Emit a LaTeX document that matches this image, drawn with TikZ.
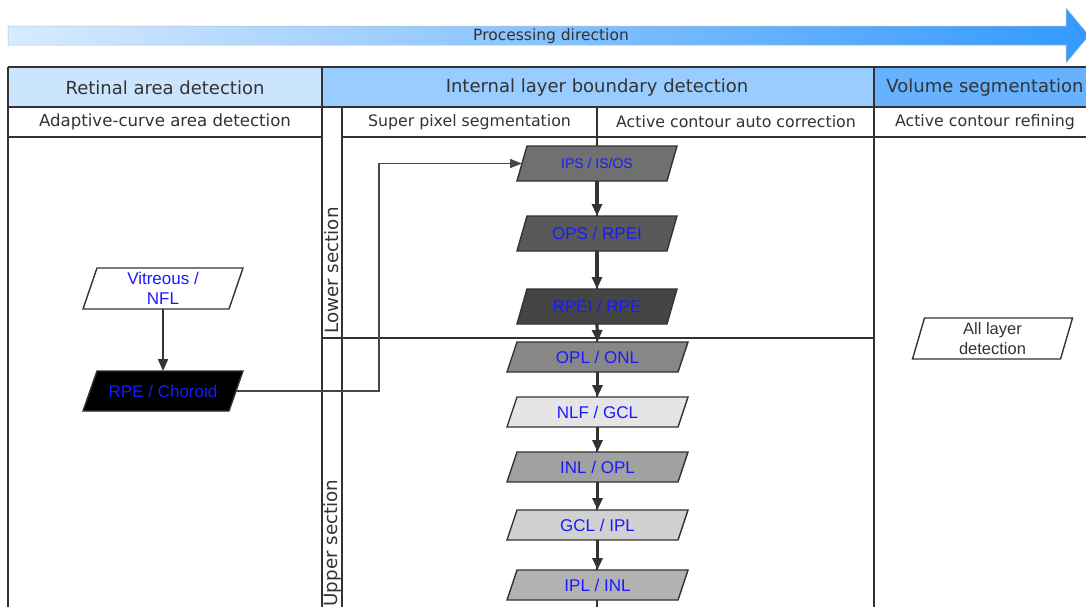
\documentclass[tikz,border=0pt]{standalone}
\usepackage{fontspec}
\setmainfont{DejaVu Sans}
\newfontfamily\boxfont{Liberation Sans}
\usetikzlibrary{arrows.meta}

\definecolor{ink}{HTML}{333333}
\definecolor{hdrA}{HTML}{CCE5FF}
\definecolor{hdrB}{HTML}{99CCFF}
\definecolor{hdrC}{HTML}{66B2FF}
\definecolor{arrowL}{HTML}{D8EBFF}
\definecolor{arrowR}{HTML}{3399FF}
\definecolor{labelblue}{HTML}{1A1AFF}

% slanted process box: name, cx, cy, edge length, height, slant, fill, font size, text
\newcommand\slantbox[9]{%
  \filldraw[boxline, fill=#7]
    ({#2-#4/2+#6/2},{#3-#5/2}) -- ({#2+#4/2+#6/2},{#3-#5/2}) --
    ({#2+#4/2-#6/2},{#3+#5/2}) -- ({#2-#4/2-#6/2},{#3+#5/2}) -- cycle;
  \node[boxtext, minimum width=#4, minimum height=#5,
        font=\boxfont\fontsize{#8}{20}\selectfont] (#1) at (#2,#3) {#9};}

\begin{document}
\begin{tikzpicture}[x=1pt,y=-1pt,
  grid/.style={draw=ink, line width=1.5pt},
  heavygrid/.style={draw=ink, line width=2.6pt},
  boxline/.style={draw=ink, line width=1.4pt},
  boxtext/.style={rectangle, inner sep=0pt, outer sep=0pt, align=center, text=labelblue},
  flow/.style={draw=ink, line width=3.2pt, -{Triangle[length=12pt,width=10pt]}},
  thinflow/.style={draw=ink, line width=2pt, -{Triangle[length=12pt,width=10pt]}},
  elbow/.style={draw=ink!90, line width=1.7pt, -{Triangle[length=12pt,width=9pt]}},
  hdr/.style={text=ink, font=\fontsize{18}{21}\selectfont},
  sub/.style={text=ink, font=\fontsize{15.8}{18}\selectfont},
  lane/.style={text=ink, rotate=90, font=\fontsize{18.3}{21}\selectfont}]

\clip (0,0) rectangle (1086,606);
\fill[white] (0,0) rectangle (1086,606);

% processing direction arrow
\shade[left color=arrowL, right color=arrowR, draw=black!25, line width=0.5pt]
  (8,26) -- (1066,26) -- (1066,8) -- (1089,35.5) -- (1066,63) -- (1066,45) -- (8,45) -- cycle;
\node[text=ink, font=\fontsize{15.5}{18}\selectfont] (dir) at (551,36) {Processing direction};

% header fills
\fill[hdrA] (8,67) rectangle (322,107);
\fill[hdrB] (322,67) rectangle (874,107);
\fill[hdrC] (874,67) rectangle (1090,107);

% table rules
\draw[grid] (8,67) -- (1090,67);
\draw[grid] (8,107) -- (1090,107);
\draw[grid] (8,137) -- (322,137);
\draw[grid] (342,137) -- (1090,137);
\draw[grid] (8,67) -- (8,610);
\draw[grid] (322,67) -- (322,610);
\draw[grid] (342,107) -- (342,610);
\draw[grid] (597,107) -- (597,610);
\draw[grid] (322,338) -- (874,338);
\draw[heavygrid] (874,67) -- (874,610);

% headers
\node[hdr] (h1) at (165,87.5) {Retinal area detection};
\node[hdr] (h2) at (597,87.5) {Internal layer boundary detection};
\node[hdr] (h3) at (985,87.5) {Volume segmentation};
\node[sub, font=\fontsize{16.6}{19}\selectfont] (s1) at (165,122) {Adaptive-curve area detection};
\node[sub] (s2) at (469.5,122) {Super pixel segmentation};
\node[sub] (s3) at (736,122) {Active contour auto correction};
\node[sub] (s4) at (985,122) {Active contour refining};
\node[lane] (lower) at (332,270.5) {Lower section};
\node[lane] (upper) at (332,543) {Upper section};

% retinal area boxes
\slantbox{vit}{163}{288.5}{146}{41}{14}{white}{17}{Vitreous /\\NFL}
\slantbox{rpe}{163}{391}{146}{40}{14}{black}{17}{RPE / Choroid}

% lower section boxes
\slantbox{ips}{597}{163.5}{150}{35}{10}{black!56}{14}{IPS / IS/OS}
\slantbox{ops}{597}{233.5}{150}{35}{10}{black!65}{17}{OPS / RPEI}
\slantbox{rpei}{597}{306.5}{150}{35}{10}{black!73}{17}{RPEI / RPE}

% upper section boxes
\slantbox{opl}{597.5}{357}{171}{30}{10}{black!47}{17}{OPL / ONL}
\slantbox{nlf}{597.5}{412}{171}{30}{10}{black!10}{17}{NLF / GCL}
\slantbox{inl}{597.5}{467}{171}{30}{10}{black!37}{17}{INL / OPL}
\slantbox{gcl}{597.5}{525}{171}{30}{10}{black!18}{17}{GCL / IPL}
\slantbox{ipl}{597.5}{585}{171}{30}{10}{black!30}{17}{IPL / INL}

% volume segmentation box
\slantbox{all}{992.5}{338.5}{148}{41}{12}{white}{16.5}{\textcolor{ink}{All layer}\\\textcolor{ink}{detection}}

% connectors
\draw[thinflow] (vit.south) -- (rpe.north);
\coordinate (bend) at (379,391);
\draw[elbow] (rpe.east) -- (bend) |- (ips.west);
\draw[flow] (ips.south) -- (ops.north);
\draw[flow] (ops.south) -- (rpei.north);
\draw[flow] (rpei.south) -- (opl.north);
\draw[flow] (opl.south) -- (nlf.north);
\draw[flow] (nlf.south) -- (inl.north);
\draw[flow] (inl.south) -- (gcl.north);
\draw[flow] (gcl.south) -- (ipl.north);
\end{tikzpicture}
\end{document}
